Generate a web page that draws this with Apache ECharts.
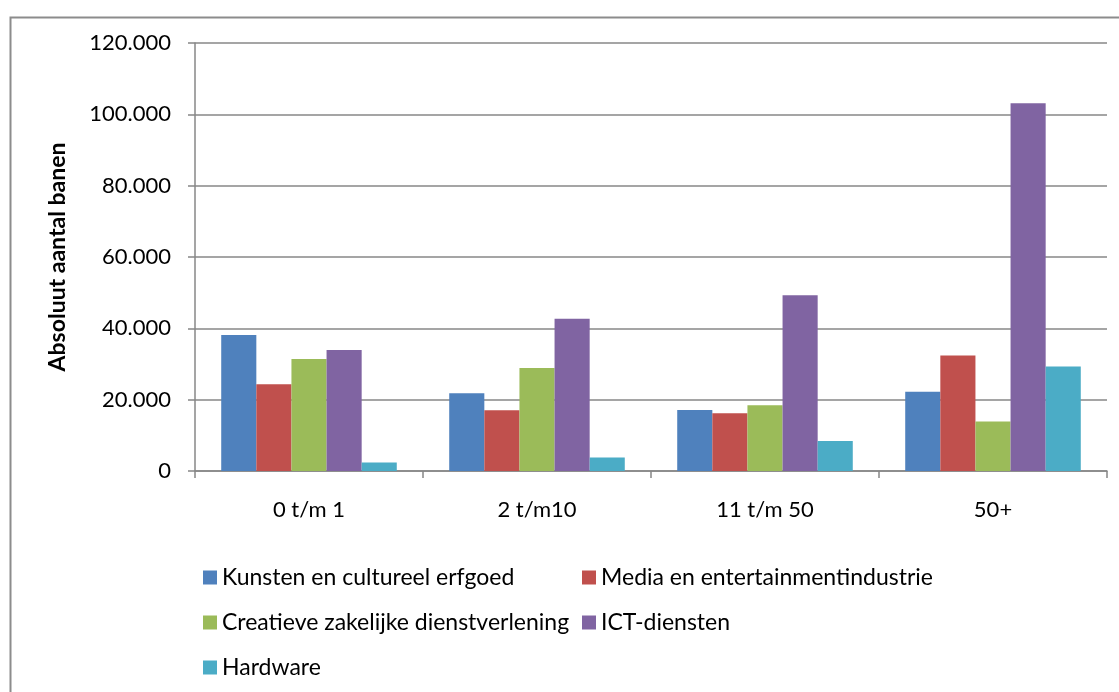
<!DOCTYPE html>
<html>
<head>
<meta charset="utf-8">
<script src="https://cdn.jsdelivr.net/npm/echarts@6/dist/echarts.min.js"></script>
<style>
html,body{margin:0;padding:0;background:#fff;}
#chart{width:1119px;height:692px;}
</style>
</head>
<body>
<div id="chart"></div>
<script>
const categories = ['0 t/m 1', '2 t/m10', '11 t/m 50', '50+'];
const seriesNames = ['Kunsten en cultureel erfgoed', 'Media en entertainmentindustrie', 'Creatieve zakelijke dienstverlening', 'ICT-diensten', 'Hardware'];
const kunsten = [38100, 21800, 17100, 22200];
const media = [24300, 17000, 16200, 32400];
const creatieve = [31400, 28900, 18400, 13900];
const ict = [33900, 42700, 49300, 103100];
const hardware = [2400, 3800, 8400, 29300];
const colors = ['#4F81BD', '#C0504D', '#9BBB59', '#8064A2', '#4BACC6'];
const yTicks = { min: 0, max: 120000, interval: 20000 };

const FONT = 'Lato';
const valuesList = [kunsten, media, creatieve, ict, hardware];

const chart = echarts.init(document.getElementById('chart'), null, { renderer: 'canvas' });
chart.setOption({
  backgroundColor: '#fff',
  animation: false,
  color: colors,
  graphic: [{
    type: 'rect',
    left: 8, top: 15,
    shape: { width: 1300, height: 900 },
    style: { fill: 'none', stroke: '#8c8c8c', lineWidth: 2 },
    silent: true
  }],
  grid: { left: 195, right: 12, top: 43, bottom: 221 },
  xAxis: {
    type: 'category',
    data: categories,
    axisLine: { lineStyle: { color: '#878787', width: 1.5 } },
    axisTick: { show: true, length: 7, lineStyle: { color: '#878787', width: 1.5 } },
    axisLabel: { color: '#000', fontFamily: FONT, fontSize: 22, margin: 28 }
  },
  yAxis: {
    type: 'value',
    min: yTicks.min, max: yTicks.max, interval: yTicks.interval,
    name: 'Absoluut aantal banen',
    nameLocation: 'middle',
    nameRotate: 90,
    nameGap: 126,
    nameTextStyle: { color: '#000', fontFamily: FONT, fontSize: 23, fontWeight: 'bold' },
    axisLine: { show: true, lineStyle: { color: '#878787', width: 1.5 } },
    axisTick: { show: true, length: 7, lineStyle: { color: '#878787', width: 1.5 } },
    splitLine: { lineStyle: { color: '#878787', width: 1.5 } },
    axisLabel: {
      color: '#000', fontFamily: FONT, fontSize: 22, margin: 24,
      formatter: v => v === 0 ? '0' : String(v).replace(/\B(?=(\d{3})+(?!\d))/g, '.')
    }
  },
  legend: [{
    orient: 'vertical', left: 203, top: 566, padding: 0,
    data: [seriesNames[0], seriesNames[2], seriesNames[4]],
    itemWidth: 14, itemHeight: 14, itemGap: 22,
    icon: 'rect',
    textStyle: { color: '#000', fontFamily: FONT, fontSize: 23 }
  }, {
    orient: 'vertical', left: 582, top: 566, padding: 0,
    data: [seriesNames[1], seriesNames[3]],
    itemWidth: 14, itemHeight: 14, itemGap: 22,
    icon: 'rect',
    textStyle: { color: '#000', fontFamily: FONT, fontSize: 23 }
  }],
  series: seriesNames.map((name, i) => ({
    name: name,
    type: 'bar',
    data: valuesList[i],
    barGap: '0%',
    barCategoryGap: '23%',
    itemStyle: { color: colors[i] }
  }))
});
</script>
</body>
</html>
